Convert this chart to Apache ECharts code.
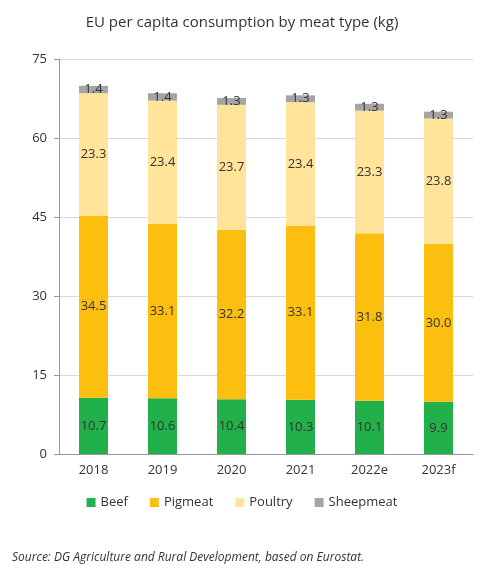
<!DOCTYPE html>
<html><head><meta charset="utf-8">
<script src="https://cdn.jsdelivr.net/npm/echarts@6/dist/echarts.min.js"></script>
<style>html,body{margin:0;background:#fff}#c{width:484px;height:576px}</style>
</head><body><div id="c"></div>
<script>
const years = ['2018', '2019', '2020', '2021', '2022e', '2023f']
const beef = [10.7, 10.6, 10.4, 10.3, 10.1, 9.9]
const pigmeat = [34.5, 33.1, 32.2, 33.1, 31.8, 30.0]
const poultry = [23.3, 23.4, 23.7, 23.4, 23.3, 23.8]
const sheepmeat = [1.4, 1.4, 1.3, 1.3, 1.3, 1.3]

const font = 'Open Sans'
function mk(name, data, color) {
  return {
    name, type: 'bar', stack: 'a', data, barWidth: 29,
    itemStyle: { color },
    label: { show: true, position: 'inside', color: '#333', fontSize: 13, fontFamily: font,
      formatter: p => p.value.toFixed(1) }
  }
}
const chart = echarts.init(document.getElementById('c'))
chart.setOption({
  animation: false,
  title: { text: 'EU per capita consumption by meat type (kg)', left: 'center', top: 10,
    textStyle: { fontSize: 15, fontWeight: 'normal', color: '#333', fontFamily: font } },
  grid: { left: 59, right: 11, top: 59, bottom: 122 },
  legend: { bottom: 62, itemWidth: 9, itemHeight: 9, icon: 'rect', itemGap: 22,
    textStyle: { fontSize: 13, color: '#333', fontFamily: font } },
  xAxis: { type: 'category', data: years,
    axisLine: { lineStyle: { color: '#999' } }, axisTick: { show: false },
    axisLabel: { color: '#333', fontSize: 13, fontFamily: font, margin: 10 } },
  yAxis: { type: 'value', min: 0, max: 75, interval: 15,
    axisLine: { show: true, lineStyle: { color: '#999' } },
    axisTick: { show: true, length: 5, lineStyle: { color: '#999' } },
    splitLine: { lineStyle: { color: '#d9d9d9' } },
    axisLabel: { color: '#333', fontSize: 13, fontFamily: font, margin: 12 } },
  series: [
    mk('Beef', beef, '#22b04b'),
    mk('Pigmeat', pigmeat, '#fdbf0f'),
    mk('Poultry', poultry, '#ffe499'),
    mk('Sheepmeat', sheepmeat, '#a5a5a5')
  ],
  graphic: [{ type: 'text', left: 12, top: 552,
    style: { text: 'Source: DG Agriculture and Rural Development, based on Eurostat.',
      font: 'italic 12px "Open Sans"', fill: '#333' } }]
})
</script></body></html>
